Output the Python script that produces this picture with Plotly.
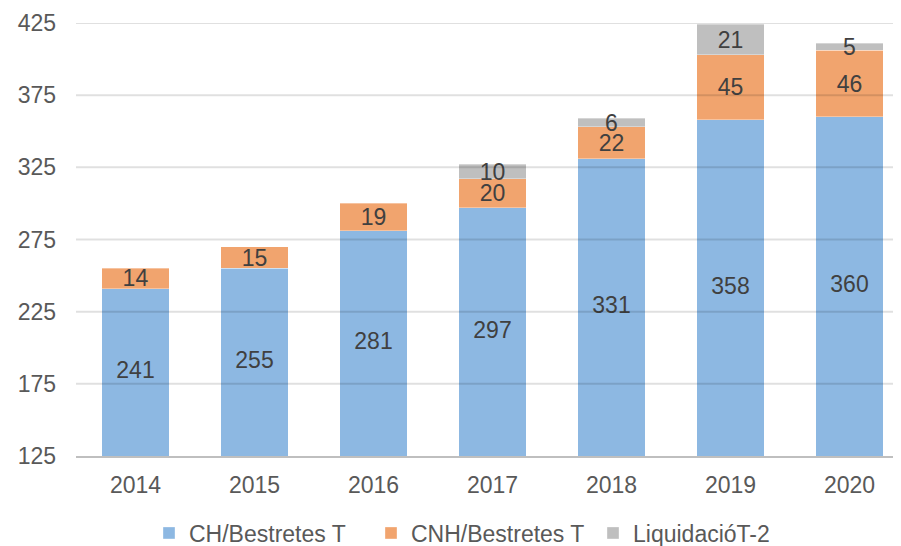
import plotly.graph_objects as go

years = ["2014", "2015", "2016", "2017", "2018", "2019", "2020"]
ch = [241, 255, 281, 297, 331, 358, 360]
cnh = [14, 15, 19, 20, 22, 45, 46]
liq = [None, None, None, 10, 6, 21, 5]
yticks = [125, 175, 225, 275, 325, 375, 425]
y_min, y_max = 125, 425

FONT = "Liberation Sans, Arial, sans-serif"
blue, orange, gray = "#8DB8E2", "#F1A46E", "#BFBFBF"
lab_col = "#404040"
tick_col = "#595959"
FS = 23

fig = go.Figure()
edge = dict(color="rgba(255,255,255,0.35)", width=1)
fig.add_trace(go.Bar(x=years, y=ch, name="CH/Bestretes T", marker=dict(color=blue, line=edge)))
fig.add_trace(go.Bar(x=years, y=cnh, name="CNH/Bestretes T", marker=dict(color=orange, line=edge),
                     text=[str(v) for v in cnh], textposition="inside", insidetextanchor="middle",
                     constraintext="none", textangle=0,
                     textfont=dict(family=FONT, size=FS, color=lab_col)))
fig.add_trace(go.Bar(x=years, y=liq, name="LiquidacióT-2", marker=dict(color=gray, line=edge),
                     text=["" if v is None else str(v) for v in liq], textposition="inside",
                     insidetextanchor="middle", constraintext="none", textangle=0,
                     textfont=dict(family=FONT, size=FS, color=lab_col)))
# labels for the blue segment, centred in the visible part
fig.add_trace(go.Scatter(x=years, y=[(y_min + v) / 2 for v in ch], mode="text",
                         text=[str(v) for v in ch], showlegend=False, hoverinfo="skip",
                         textfont=dict(family=FONT, size=FS, color=lab_col)))

# gridlines drawn over the bars, as in the reference
for t in yticks[1:]:
    fig.add_shape(type="line", xref="paper", yref="y", x0=0, x1=1, y0=t, y1=t,
                  line=dict(color="rgba(0,0,0,0.12)", width=2), layer="above")

# the page body has an 8px margin, so margins are shifted by 8px
fig.update_layout(
    barmode="stack", bargap=0.43,
    width=901, height=546,
    margin=dict(l=68, r=0, t=15, b=98),
    paper_bgcolor="white", plot_bgcolor="white",
    font=dict(family=FONT, size=FS, color=tick_col),
    legend=dict(orientation="h", x=141 / 901, xref="container", xanchor="left",
                y=1 - (533 - 8) / 546, yref="container", yanchor="middle",
                entrywidth=177, entrywidthmode="pixels",
                font=dict(size=FS, color=tick_col), traceorder="normal"),
    xaxis=dict(showgrid=False, showline=True, linecolor="#BFBFBF", linewidth=2,
               ticks="", tickfont=dict(size=FS, color=tick_col), ticklabelstandoff=7,
               automargin=False),
    yaxis=dict(range=[y_min, y_max], tickvals=yticks, showgrid=False,
               zeroline=False, showline=False, ticks="",
               tickfont=dict(size=FS, color=tick_col), ticklabelstandoff=19,
               automargin=False),
)
fig.write_html("out.html")
